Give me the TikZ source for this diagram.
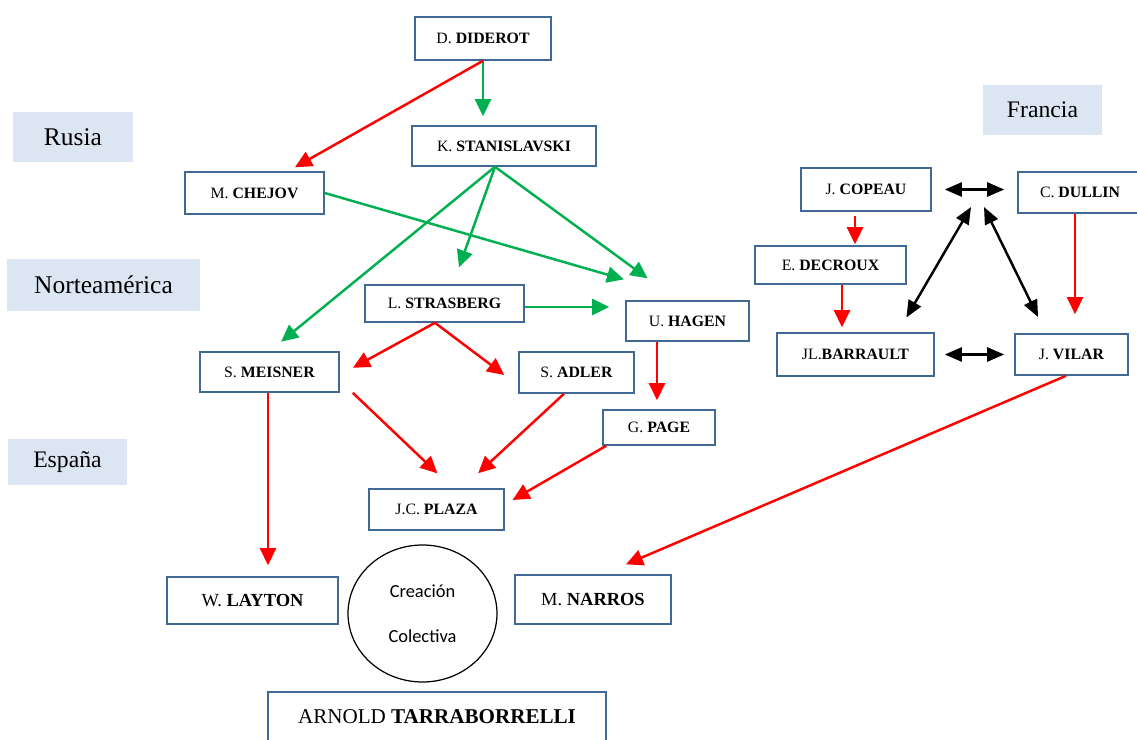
\documentclass[tikz,border=0pt]{standalone}
\usepackage{fontspec}
\setmainfont{Liberation Serif}
\newfontfamily\calibrifont{Carlito}
\usepackage{tikz}
\usetikzlibrary{shapes.geometric, arrows.meta, positioning}
\definecolor{boxblue}{RGB}{65, 105, 150}
\definecolor{regionblue}{RGB}{220, 230, 242}
\definecolor{linkgreen}{RGB}{0, 176, 80}
\definecolor{linkred}{RGB}{255, 0, 0}

\begin{document}
\begin{tikzpicture}[
    x=0.02cm, y=-0.02cm,
    box/.style={rectangle, draw=boxblue, line width=0.9pt, inner sep=0pt, font=\fontsize{9}{11}\selectfont, align=center},
    bigbox/.style={box, font=\fontsize{10.5}{12}\selectfont},
    region/.style={rectangle, fill=regionblue, inner sep=0pt, font=\fontsize{14.5}{17}\selectfont},
    arrow/.style={-{Triangle[length=0.34cm, width=0.32cm]}, line width=1.4pt},
    twoway/.style={{Triangle[length=0.34cm, width=0.28cm]}-{Triangle[length=0.34cm, width=0.28cm]}, line width=1.4pt, black}
]
    \useasboundingbox (0,0) rectangle (1137,740);

    \node[region, minimum width=2.4cm, minimum height=1cm]     (rusia)   at (73,137)    {Rusia};
    \node[region, minimum width=3.86cm, minimum height=1.04cm] (norte)   at (103.5,285) {Norteamérica};
    \node[region, minimum width=2.38cm, minimum height=0.92cm, font=\fontsize{13.5}{16}\selectfont] (espana)  at (67.5,462)  {España};
    \node[region, minimum width=2.38cm, minimum height=1cm, font=\fontsize{13.5}{16}\selectfont]    (francia) at (1042.5,110) {Francia};

    \node[box, minimum width=2.72cm, minimum height=0.86cm] (diderot)   at (483,38.5)    {D. \textbf{DIDEROT}};
    \node[box, minimum width=3.68cm, minimum height=0.8cm]  (stan)      at (504,146)     {K. \textbf{STANISLAVSKI}};
    \node[box, minimum width=2.78cm, minimum height=0.84cm] (chejov)    at (254.5,193)   {M. \textbf{CHEJOV}};
    \node[box, minimum width=3.18cm, minimum height=0.74cm] (strasberg) at (444.5,303.5) {L. \textbf{STRASBERG}};
    \node[box, minimum width=2.46cm, minimum height=0.8cm]  (hagen)     at (687.5,321)   {U. \textbf{HAGEN}};
    \node[box, minimum width=2.78cm, minimum height=0.8cm]  (meisner)   at (269.5,372)   {S. \textbf{MEISNER}};
    \node[box, minimum width=2.3cm, minimum height=0.82cm]  (adler)     at (576.5,372.5) {S. \textbf{ADLER}};
    \node[box, minimum width=2.24cm, minimum height=0.7cm]  (page)      at (659,427.5)   {G. \textbf{PAGE}};
    \node[box, minimum width=2.7cm, minimum height=0.82cm]  (plaza)     at (436.5,509.5) {J.C. \textbf{PLAZA}};
    \node[bigbox, minimum width=3.42cm, minimum height=0.94cm] (layton)  at (252.5,600.5) {W. \textbf{LAYTON}};
    \node[bigbox, minimum width=3.12cm, minimum height=0.98cm] (narros)  at (593,599.5)   {M. \textbf{NARROS}};
    \node[box, minimum width=6.76cm, minimum height=1cm, font=\fontsize{12}{14}\selectfont] (tarra) at (437,717) {ARNOLD \textbf{TARRABORRELLI}};
    \node[ellipse, draw, line width=0.7pt, minimum width=2.98cm, minimum height=2.74cm, inner sep=0pt, align=center, font=\calibrifont\fontsize{10.5}{12.6}\selectfont] (colectiva) at (422.5,613.5) {Creación\\[13pt]Colectiva};

    \node[box, minimum width=2.6cm, minimum height=0.86cm]  (copeau)    at (866,189.5)   {J. \textbf{COPEAU}};
    \node[box, minimum width=2.48cm, minimum height=0.82cm] (dullin)    at (1080,192.5)  {C. \textbf{DULLIN}};
    \node[box, minimum width=3.02cm, minimum height=0.76cm] (decroux)   at (830.5,265)   {E. \textbf{DECROUX}};
    \node[box, minimum width=3.14cm, minimum height=0.86cm] (barrault)  at (855.5,354.5) {JL.\textbf{BARRAULT}};
    \node[box, minimum width=2.26cm, minimum height=0.82cm] (vilar)     at (1071.5,354.5) {J. \textbf{VILAR}};

    \draw[arrow, linkgreen, shorten >=0.18cm] (diderot.south) -- (diderot.south |- stan.north);
    \draw[arrow, linkred, shorten >=0.16cm] (diderot.south) -- ([xshift=0.67cm]chejov.north);
    \draw[arrow, linkgreen, shorten >=0.3cm] ([xshift=-0.18cm]stan.south) -- (meisner.north);
    \draw[arrow, linkgreen, shorten >=0.36cm] ([xshift=-0.18cm]stan.south) -- ([xshift=0.17cm]strasberg.north);
    \draw[arrow, linkgreen, shorten >=0.74cm] ([xshift=-0.18cm]stan.south) -- ([xshift=-0.2cm]hagen.north);
    \draw[arrow, linkgreen, shorten >=1.5cm] (chejov.east) -- ([xshift=0.17cm]hagen.north);
    \draw[arrow, linkgreen, shorten >=0.32cm] ([yshift=-0.07cm]strasberg.east) -- ([yshift=-0.07cm]strasberg.east -| hagen.west);

    \draw[arrow, linkred, shorten >=0.3cm] ([xshift=-0.19cm]strasberg.south) -- ([yshift=-0.06cm]meisner.east);
    \draw[arrow, linkred, shorten >=0.35cm] ([xshift=-0.19cm]strasberg.south) -- ([yshift=-0.26cm]adler.west);
    \draw[arrow, linkred, shorten >=0.18cm] ([xshift=-0.61cm]hagen.south) -- ([xshift=-0.61cm]hagen.south |- page.north);
    \draw[arrow, linkred, shorten >=0.43cm] ([xshift=0.26cm]meisner.south east) -- ([xshift=0.33cm]plaza.north);
    \draw[arrow, linkred, shorten >=0.44cm] ([xshift=-0.25cm]adler.south) -- ([xshift=0.51cm]plaza.north);
    \draw[arrow, linkred, shorten >=0.18cm] ([xshift=0.08cm]page.south west) -- ([yshift=0.1cm]plaza.east);
    \draw[arrow, linkred, shorten >=0.22cm] ([xshift=-0.03cm]meisner.south) -- ([xshift=-0.03cm]meisner.south |- layton.north);
    \draw[arrow, linkred, shorten >=0.5cm] ([xshift=-0.11cm]vilar.south) -- ([xshift=0.2cm]narros.north);

    \draw[arrow, linkred, shorten <=0.08cm, shorten >=0.02cm] ([xshift=-0.22cm]copeau.south) -- ([xshift=-0.22cm]copeau.south |- decroux.north);
    \draw[arrow, linkred, shorten >=0.1cm] ([xshift=0.23cm]decroux.south) -- ([xshift=0.23cm]decroux.south |- barrault.north);
    \draw[arrow, linkred, shorten >=0.38cm] ([xshift=-0.1cm]dullin.south) -- ([xshift=-0.1cm]dullin.south |- vilar.north);
    \draw[twoway, shorten <=0.26cm, shorten >=0.26cm] (copeau.east) -- (copeau.east -| dullin.west);
    \draw[twoway, shorten <=0.2cm, shorten >=0.2cm] (barrault.east) -- (vilar.west);
    \coordinate (hubL) at (971,207);
    \coordinate (hubR) at (984,207);
    \draw[twoway, shorten >=0.34cm] (hubL) -- ([xshift=-0.74cm]barrault.north east);
    \draw[twoway, shorten >=0.36cm] (hubR) -- ([xshift=-0.51cm]vilar.north);
\end{tikzpicture}
\end{document}
